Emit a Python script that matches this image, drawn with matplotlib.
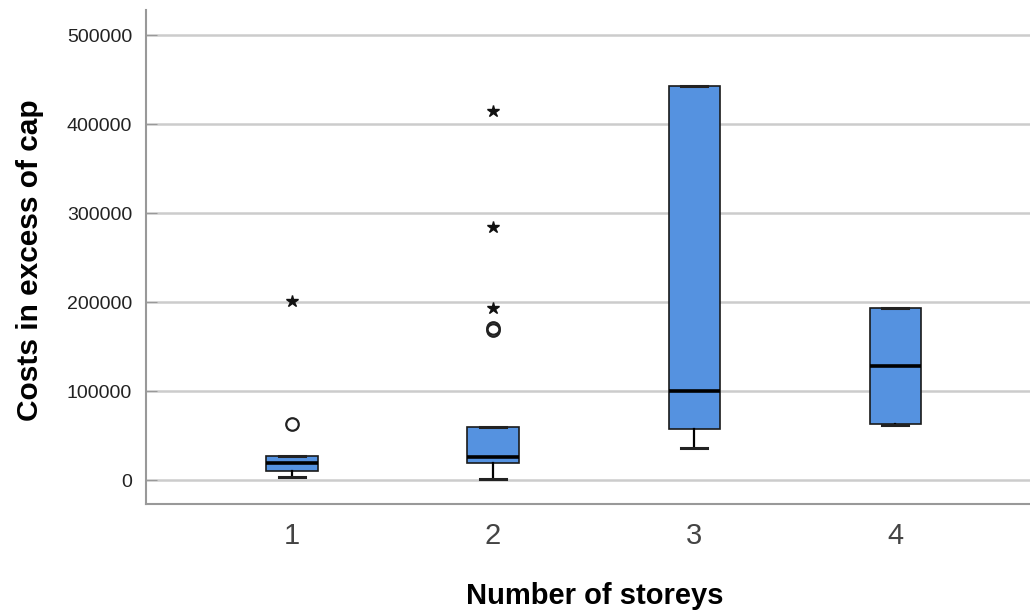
import matplotlib
matplotlib.use("Agg")
import matplotlib.pyplot as plt

plt.rcParams['font.family'] = ['Liberation Sans', 'DejaVu Sans']

categories = ["1", "2", "3", "4"]
q1 = [10000, 18700, 57300, 63000]
med = [19000, 26000, 100300, 127700]
q3 = [27000, 59000, 442700, 193000]
whislo = [3400, 1000, 36300, 62000]
whishi = [27500, 59000, 442700, 193000]
circle_outliers = [[63000], [168000, 171000], [], []]
star_outliers = [[201000], [193000, 284600, 415000], [], []]
yticks = [0, 100000, 200000, 300000, 400000, 500000]

fig = plt.figure(figsize=(10.30, 6.11), dpi=100)
ax = fig.add_axes([146/1030, (611-504)/611, (1030-146)/1030, (504-10)/611])

stats = []
for i, c in enumerate(categories):
    stats.append(dict(label=c, q1=q1[i], med=med[i], q3=q3[i],
                      whislo=whislo[i], whishi=whishi[i], fliers=[]))

pos = list(range(1, len(categories) + 1))
ax.bxp(stats, positions=pos, widths=0.255, patch_artist=True, showfliers=False,
       boxprops=dict(facecolor="#5592E0", edgecolor="#1a1a1a", linewidth=1.2),
       medianprops=dict(color="black", linewidth=2.6),
       whiskerprops=dict(color="black", linewidth=1.6),
       capprops=dict(color="#222222", linewidth=2.2),
       capwidths=0.13, zorder=3)

for i in range(len(categories)):
    if circle_outliers[i]:
        ax.plot([pos[i]] * len(circle_outliers[i]), circle_outliers[i], 'o',
                mfc='none', mec='#222222', ms=9, mew=1.6, zorder=4)
    if star_outliers[i]:
        ax.plot([pos[i]] * len(star_outliers[i]), star_outliers[i], '*',
                color='#111111', ms=9, zorder=4)

ax.set_xlim(0.274, 4.67)
ax.set_ylim(-26966, 528090)
ax.set_yticks(yticks)
ax.set_yticklabels([str(v) for v in yticks], fontsize=14, color='#222222')
ax.set_xticks(pos)
ax.set_xticklabels(categories, fontsize=21, color='#444444')
ax.tick_params(axis='x', length=0, pad=13)
ax.tick_params(axis='y', direction='in', length=8, color='#999999', pad=10)
ax.yaxis.grid(True, color='#cccccc', linewidth=1.8, zorder=0)
ax.set_axisbelow(True)

for s in ['top', 'right']:
    ax.spines[s].set_visible(False)
for s in ['left', 'bottom']:
    ax.spines[s].set_color('#999999')
    ax.spines[s].set_linewidth(1.5)

ax.set_xlabel("Number of storeys", fontsize=21, fontweight='bold', va='center')
ax.xaxis.set_label_coords((595 - 146) / 884, (504 - 596) / 494)
ax.set_ylabel("Costs in excess of cap", fontsize=21.5, fontweight='bold', va='center')
ax.yaxis.set_label_coords((30 - 146) / 884, (504 - 260) / 494)

fig.savefig("out.png", dpi=100)
